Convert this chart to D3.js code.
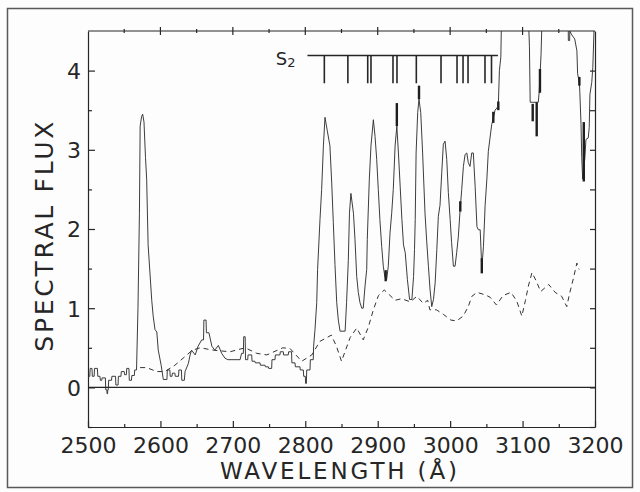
<!DOCTYPE html>
<html><head><meta charset="utf-8">
<script src="https://cdn.jsdelivr.net/npm/d3@7"></script>
<style>
html,body{margin:0;padding:0;background:#fdfdfd;}
svg{display:block;}
text{font-family:"DejaVu Sans",sans-serif;fill:#262626;}
</style></head><body>
<svg id="chart" width="640" height="492"></svg>
<script>
// ---------- data ----------
const xMajorTicks = [2500, 2600, 2700, 2800, 2900, 3000, 3100, 3200];
const xMinorTicks = [2550, 2650, 2750, 2850, 2950, 3050, 3150];
const yMajorTicks = [0, 1, 2, 3, 4];
const yMinorTicks = [-0.5, 0.5, 1.5, 2.5, 3.5];
const xTitle = "WAVELENGTH (Å)";
const yTitle = "SPECTRAL FLUX";
const bandLabel = "S";
const bandSub = "2";

// observed spectrum (solid, stepped)
const specWave = [2500,2502.5,2503,2505.5,2506,2508.5,2509,2513,2513.5,2516.5,2517,2519,2519.5,2524,2524.5,2526,2526.3,2527,2527.3,2528,2528.5,2532.5,2533,2538,2538.5,2541.5,2542,2545.5,2546,2550,2550.5,2553,2553.5,2556.5,2557,2560,2560.5,2564,2564.5,2567,
2569,2571,2572,2574,2575.5,2577.3,2579.4,2581,2583,2588,2590,2592.5,2595,2597,2601,2604,
2609,2609.5,2613,2613.5,2616,2616.5,2620,2620.5,2625,2625.5,2629,2629.5,2633,
2634,2638.5,2641,2643,2648,2652,2657,2659.5,2660,2663,2663.5,2667,2671,2675,2680,2684.6,2689,2693,2710,2712,2714.5,2715,2717,2717.5,2720.5,2721,2726,2726.5,2730.5,2731,2737.5,2738,2744.4,2745,2749,2749.5,2753.6,2754,2758.2,2758.7,2765,2765.5,2769.7,2770,2776.5,2777,2781,2781.5,2785.8,2786.3,2792.7,2793,2797.3,2797.8,2800,2800.5,2801.5,2802,2806.5,2807,2811,
2811.5,2813.4,2815.8,2817,2820.3,2822.6,2825,2827.2,2830.4,2834,2836.5,2838.7,2841,2843.4,2845.6,2848,2855,2857,2859.4,2861,2863,2866.5,2868.6,2871,2873.2,2875.5,2878,2880,2882.5,2884.8,2885.6,2888.4,2890.7,2894,2896.3,2898.6,2900.8,2903,2905.5,2907.7,2910,2912.3,2914.6,2917,2919.3,2921.5,2924,2926.4,2928.6,2931,2933.4,2935.6,2938,2941,2944,2947.2,2949.5,2950.8,2951.8,2953,2955.2,2957,2959.4,2962,2965.3,2967.6,2970,2972.3,2974.6,2977,2979.3,2981.6,2983.7,2986,2988.4,2990.6,2993,2995.3,2997.5,3000,3002,3004.5,3006.8,3009,3011.3,3013.6,3016,3018.3,3020.6,3023,3025,3027.4,3029.8,3032,3034.5,3037,3039,3041.5,3043.7,3046,3048.3,3050.7,3052.7,3057.4,3059.6,3062,3066.5,3068,3070,3071,
3108,3109.5,3110.5,3121.7,3123,3125.5,3127,3163,3163.2,3165,3165.2,3168,3172,3175,3176,3178.4,3179,3180.7,3181.7,3183,3184.5,3186,3187.5,3190.7,3192,3193,3195.5,3197,3198.6,3200];
const specFlux = [0.14,0.14,0.24,0.24,0.14,0.14,0.24,0.24,0.14,0.14,0.09,0.09,0.12,0.12,-0.03,-0.03,-0.08,-0.08,-0.03,-0.03,0.09,0.09,0.14,0.14,0.03,0.03,0.14,0.14,0.2,0.2,0.16,0.16,0.24,0.24,0.09,0.09,0.15,0.15,0.22,0.22,
1.0,2.2,3.3,3.42,3.45,3.35,2.9,2.63,1.8,1.1,0.9,0.73,0.7,0.47,0.28,0.1,
0.1,0.22,0.22,0.14,0.14,0.18,0.18,0.14,0.14,0.22,0.22,0.09,0.09,
0.2,0.3,0.41,0.47,0.41,0.52,0.6,0.6,0.85,0.85,0.69,0.69,0.52,0.47,0.53,0.43,0.37,0.35,0.35,0.43,0.43,0.64,0.64,0.35,0.35,0.41,0.41,0.33,0.33,0.31,0.31,0.28,0.28,0.26,0.26,0.24,0.24,0.35,0.35,0.41,0.41,0.45,0.45,0.41,0.41,0.45,0.45,0.31,0.31,0.26,0.26,0.22,0.22,0.14,0.14,0.05,0.05,0.22,0.22,0.35,0.35,
0.52,0.73,1.07,1.49,2.12,2.5,3.05,3.41,3.24,3.05,2.58,2.08,1.55,1.07,0.85,0.71,0.71,1.07,1.6,2.2,2.45,2.2,1.87,1.4,1.2,1.07,1.0,1.0,1.28,1.49,1.87,2.63,3.05,3.38,3.17,2.88,2.5,2.12,1.78,1.53,1.39,1.36,1.53,1.95,2.2,2.5,3.05,3.3,2.96,2.54,2.12,1.8,1.7,1.36,1.11,1.11,1.4,1.74,2.12,2.96,3.47,3.64,3.47,2.96,2.2,1.85,1.53,1.23,1.02,1.11,1.32,1.74,2.16,2.3,2.71,3.07,3.11,2.88,2.46,2.12,1.83,1.53,1.53,1.7,1.9,2.22,2.5,2.79,2.94,2.96,2.84,2.79,2.96,2.96,2.54,2.03,1.99,1.99,1.5,1.78,2.3,2.63,2.98,3.32,3.4,3.5,3.55,4.0,4.17,4.7,
4.7,4.3,3.6,3.6,3.74,4.2,4.7,4.7,4.38,4.38,4.5,4.45,4.4,4.25,3.96,3.85,3.74,3.32,2.9,2.63,2.75,2.9,3.13,3.15,3.28,3.7,3.85,4.04,4.5,4.7];

// heavy vertical marks on the spectrum
const markWave = [2911, 2926.4, 2957, 3014, 3043.7, 3059.6, 3066.5, 3114, 3119.5, 3124, 3178.4, 3184.5];
const markLow  = [1.34, 3.30, 3.64, 2.22, 1.44, 3.34, 3.50, 3.36, 3.17, 3.72, 3.81, 2.60];
const markHigh = [1.48, 3.59, 3.81, 2.35, 1.63, 3.48, 3.61, 3.58, 3.60, 4.02, 3.92, 3.35];

// model / comparison spectrum (dashed)
const dashWave = [2572,2581,2595,2606,2620,2634,2644,2655,2673,2696,2717,2733,2747,2769,2779,2795,2809,2820,2836,2843,2850,2862,2871,2880,2887,2894,2901,2909,2916,2924,2933,2945,2954,2963,2969,2972,2981,2991,3001,3009,3018,3025,3030,3037,3048,3055,3064,3073,3084,3092,3099,3104,3108,3113,3119,3125,3136,3145,3154,3161,3165,3170,3175,3178];
const dashFlux = [0.25,0.25,0.2,0.2,0.28,0.39,0.47,0.5,0.47,0.45,0.5,0.43,0.41,0.5,0.49,0.33,0.41,0.58,0.66,0.52,0.33,0.63,0.75,0.6,0.76,0.98,1.16,1.23,1.17,1.1,1.12,1.08,1.15,1.06,1.1,0.98,0.98,0.92,0.85,0.84,0.9,1.02,1.15,1.2,1.17,1.14,1.04,1.16,1.2,1.09,0.9,1.1,1.28,1.45,1.34,1.21,1.3,1.2,1.15,1.02,1.19,1.37,1.57,1.49];

// S2 band heads
const s2Wave = [2826.3, 2858.8, 2886.2, 2890.7, 2921.1, 2926.6, 2953.3, 2987.4, 3009.5, 3017.8, 3024.7, 3048.1, 3057.1];
const s2Span = [2803, 3066];

// ---------- layout ----------
const W = 640, H = 492;
const plot = {left: 88, right: 595, top: 31, bottom: 427};
const s2LineFlux = 4.19, s2TickFlux = 3.84;
const ink = "#262626";

const svg = d3.select("#chart");
svg.append("rect").attr("x", 7.5).attr("y", 8.5).attr("width", 625).attr("height", 479)
  .attr("fill", "none").attr("stroke", "#5a5a5a").attr("stroke-width", 1.5);

const x = d3.scaleLinear().domain([2500, 3200]).range([plot.left, plot.right]);
const y = d3.scaleLinear().domain([-0.5, 4.5]).range([plot.bottom, plot.top]);

svg.append("defs").append("clipPath").attr("id", "clip")
  .append("rect").attr("x", plot.left).attr("y", plot.top)
  .attr("width", plot.right - plot.left).attr("height", plot.bottom - plot.top);

function styleAxis(g) {
  g.selectAll("path,line").attr("stroke", ink).attr("stroke-width", 1.2);
}

// bottom axis
const gB = svg.append("g").attr("transform", `translate(0,${plot.bottom})`)
  .call(d3.axisBottom(x).tickValues(xMajorTicks).tickSize(-6).tickSizeOuter(0).tickFormat(d3.format("d")));
gB.selectAll("text").attr("y", 26).attr("dy", null).attr("font-size", 22).attr("fill", ink)
  .attr("font-family", "DejaVu Sans");
styleAxis(gB);
const gBm = svg.append("g").attr("transform", `translate(0,${plot.bottom})`)
  .call(d3.axisBottom(x).tickValues(xMinorTicks).tickSize(-3).tickFormat(""));
gBm.select(".domain").remove();
styleAxis(gBm);

// top axis with crossing ticks
svg.append("line").attr("x1", plot.left).attr("x2", plot.right).attr("y1", plot.top).attr("y2", plot.top)
  .attr("stroke", ink).attr("stroke-width", 1.2);
svg.append("g").selectAll("line").data(xMajorTicks.slice(1, -1)).join("line")
  .attr("x1", d => x(d)).attr("x2", d => x(d)).attr("y1", plot.top - 4).attr("y2", plot.top + 4)
  .attr("stroke", ink).attr("stroke-width", 1.2);
svg.append("g").selectAll("line").data(xMinorTicks).join("line")
  .attr("x1", d => x(d)).attr("x2", d => x(d)).attr("y1", plot.top - 2).attr("y2", plot.top + 2)
  .attr("stroke", ink).attr("stroke-width", 1.2);

// left axis
const gL = svg.append("g").attr("transform", `translate(${plot.left},0)`)
  .call(d3.axisLeft(y).tickValues(yMajorTicks).tickSize(-7).tickSizeOuter(0).tickPadding(7).tickFormat(d3.format("d")));
gL.selectAll("text").attr("font-size", 22).attr("dy", "0.36em").attr("fill", ink).attr("font-family", "DejaVu Sans");
styleAxis(gL);
const gLm = svg.append("g").attr("transform", `translate(${plot.left},0)`)
  .call(d3.axisLeft(y).tickValues(yMinorTicks).tickSize(-4).tickFormat(""));
gLm.select(".domain").remove();
styleAxis(gLm);

// right axis
const gR = svg.append("g").attr("transform", `translate(${plot.right},0)`)
  .call(d3.axisRight(y).tickValues(yMajorTicks.concat(yMinorTicks)).tickSize(-5).tickSizeOuter(0).tickFormat(""));
styleAxis(gR);

// zero line
svg.append("line").attr("x1", x(2500)).attr("x2", x(3200)).attr("y1", y(0)).attr("y2", y(0))
  .attr("stroke", ink).attr("stroke-width", 1.2);

// dashed model
const dashData = dashWave.map((w, i) => [w, dashFlux[i]]);
svg.append("path").datum(dashData)
  .attr("d", d3.line().x(d => x(d[0])).y(d => y(d[1])))
  .attr("fill", "none").attr("stroke", "#333").attr("stroke-width", 1.0).attr("stroke-dasharray", "5,4")
  .attr("clip-path", "url(#clip)");

// solid spectrum
const specData = specWave.map((w, i) => [w, specFlux[i]]);
svg.append("path").datum(specData)
  .attr("d", d3.line().x(d => x(d[0])).y(d => y(d[1])))
  .attr("fill", "none").attr("stroke", "#333").attr("stroke-width", 0.95)
  .attr("stroke-linejoin", "miter").attr("clip-path", "url(#clip)");

// heavy marks
svg.append("g").selectAll("line").data(markWave).join("line")
  .attr("x1", d => x(d)).attr("x2", d => x(d))
  .attr("y1", (d, i) => y(markLow[i])).attr("y2", (d, i) => y(markHigh[i]))
  .attr("stroke", "#1e1e1e").attr("stroke-width", 2.4);

// S2 band head comb
svg.append("line").attr("x1", x(s2Span[0])).attr("x2", x(s2Span[1]))
  .attr("y1", y(s2LineFlux)).attr("y2", y(s2LineFlux)).attr("stroke", ink).attr("stroke-width", 1.4);
svg.append("g").selectAll("line").data(s2Wave).join("line")
  .attr("x1", d => x(d)).attr("x2", d => x(d))
  .attr("y1", y(s2LineFlux)).attr("y2", y(s2TickFlux))
  .attr("stroke", ink).attr("stroke-width", 1.6);
const lab = svg.append("text").attr("x", x(s2Span[0]) - 12).attr("y", 64.5)
  .attr("text-anchor", "end").attr("font-size", 18);
lab.append("tspan").text(bandLabel);
lab.append("tspan").attr("font-size", 13).attr("dy", 2.5).text(bandSub);

// axis titles
svg.append("text").attr("x", 220).attr("y", 478.5).attr("font-size", 23)
  .attr("textLength", 237).attr("lengthAdjust", "spacing").text(xTitle);
svg.append("text").attr("transform", "translate(53,236.7) rotate(-90)")
  .attr("text-anchor", "middle").attr("font-size", 25)
  .attr("textLength", 230).attr("lengthAdjust", "spacing").text(yTitle);
</script>
</body></html>
